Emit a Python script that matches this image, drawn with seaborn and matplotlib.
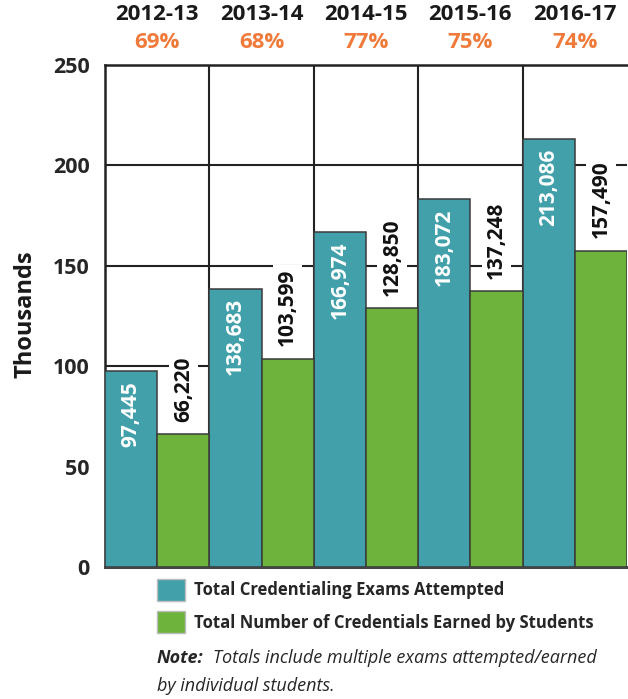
import matplotlib
matplotlib.use("Agg")
import matplotlib.pyplot as plt
from matplotlib.patches import Patch
from matplotlib.transforms import blended_transform_factory
import seaborn as sns
import pandas as pd

years = ["2012-13", "2013-14", "2014-15", "2015-16", "2016-17"]
pass_rates = ["69%", "68%", "77%", "75%", "74%"]
exams_attempted = [97445, 138683, 166974, 183072, 213086]
credentials_earned = [66220, 103599, 128850, 137248, 157490]
series_names = ["Total Credentialing Exams Attempted",
                "Total Number of Credentials Earned by Students"]
yticks = [0, 50, 100, 150, 200, 250]

TEAL = "#42A0AA"
GREEN = "#6DB33C"
ORANGE = "#F07A3A"

sns.set_style("white")
plt.rcParams["font.family"] = ["Open Sans", "DejaVu Sans"]

df = pd.DataFrame({
    "Year": years * 2,
    "Series": [series_names[0]] * 5 + [series_names[1]] * 5,
    "Value": exams_attempted + credentials_earned,
})
df["Thousands"] = df["Value"] / 1000

W, H = 628, 699
fig = plt.figure(figsize=(W / 100, H / 100), dpi=100)
ax = fig.add_axes([105 / W, 1 - 567 / H, 522 / W, 502 / H])

sns.barplot(data=df, x="Year", y="Thousands", hue="Series", order=years,
            hue_order=series_names, palette=[TEAL, GREEN], saturation=1,
            width=1.0, edgecolor="#3a3a3a", linewidth=1.1, legend=False,
            ax=ax, zorder=3)

ax.set_xlim(-0.5, len(years) - 0.5)
ax.set_ylim(0, 250)
ax.set_yticks(yticks)
ax.set_yticklabels([str(t) for t in yticks], fontsize=15.5, fontweight="bold")
ax.tick_params(axis="y", length=8, width=1.5, color="#222222", pad=3)

# grid: horizontal lines and category dividers
for t in yticks[1:-1]:
    ax.axhline(t, color="#222222", lw=1.5, zorder=1)
for i in range(1, len(years)):
    ax.axvline(i - 0.5, color="#222222", lw=1.5, zorder=1)

for side in ["left", "top"]:
    ax.spines[side].set_color("#222222")
    ax.spines[side].set_linewidth(1.8)
ax.spines["bottom"].set_color("#444444")
ax.spines["bottom"].set_linewidth(2.2)
ax.spines["right"].set_visible(False)

# years and rates on top
ax.set_xlabel("")
ax.set_xticks([])
trans = blended_transform_factory(ax.transData, fig.transFigure)
for i, (yr, pr) in enumerate(zip(years, pass_rates)):
    ax.text(i, 1 - 15 / H, yr, transform=trans, ha="center", va="center",
            fontsize=16, fontweight="bold", color="#1a1a1a")
    ax.text(i, 1 - 43 / H, pr, transform=trans, ha="center", va="center",
            fontsize=16, fontweight="bold", color=ORANGE)

ax.set_ylabel("")
fig.text(26 / W, 1 - 314 / H, "Thousands", rotation=90, ha="center",
         va="center", fontsize=17, fontweight="bold", color="#1a1a1a")

# value labels
for bar, val in zip(ax.containers[0], exams_attempted):
    x = bar.get_x() + bar.get_width() / 2
    ax.annotate(f"{val:,}", (x, bar.get_height()), xytext=(0, -7),
                textcoords="offset points", rotation=90, ha="center", va="top",
                fontsize=15, fontweight="bold", color="white", zorder=5)
for bar, val in zip(ax.containers[1], credentials_earned):
    x = bar.get_x() + bar.get_width() / 2
    ax.annotate(f"{val:,}", (x, bar.get_height()), xytext=(0, 9),
                textcoords="offset points", rotation=90, ha="center", va="bottom",
                fontsize=15, fontweight="bold", color="#111111", zorder=5,
                bbox=dict(boxstyle="square,pad=0.2", fc="white", ec="none"))

# legend below
handles = [Patch(facecolor=TEAL, edgecolor="#bbbbbb"),
           Patch(facecolor=GREEN, edgecolor="#bbbbbb")]
fig.legend(handles, series_names, loc="upper left",
           bbox_to_anchor=(157 / W, 1 - 579 / H), frameon=False,
           prop={"size": 12, "weight": "bold"}, handlelength=1.65,
           handleheight=1.65, labelspacing=0.62, handletextpad=0.55,
           borderaxespad=0, borderpad=0)

note = fig.text(157 / W, 1 - 658 / H, "Note:", fontsize=13, fontweight="bold",
                style="italic", ha="left", va="center")
fig.canvas.draw()
nb = note.get_window_extent()
fig.text((nb.x1 + 9) / W, 1 - 658 / H,
         "Totals include multiple exams attempted/earned",
         fontsize=13, style="italic", ha="left", va="center")
fig.text(157 / W, 1 - 686 / H, "by individual students.", fontsize=13,
         style="italic", ha="left", va="center")

fig.savefig("out.png", dpi=100)
